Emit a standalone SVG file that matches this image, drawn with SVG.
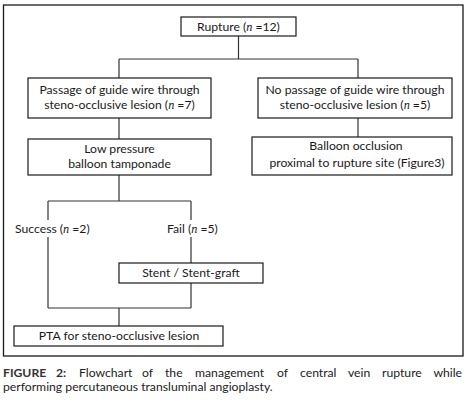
<svg xmlns="http://www.w3.org/2000/svg" width="466" height="402" viewBox="0 0 466 402">
<style>
.box{fill:#fff;stroke:#1a1a1a;stroke-width:1.2}
.t{font-family:Lato,"Open Sans","Liberation Sans",sans-serif;font-size:12.2px;fill:#1a1a1a;text-anchor:middle}
.tl{font-family:Lato,"Open Sans","Liberation Sans",sans-serif;font-size:12.2px;fill:#1a1a1a}
.n{font-family:"Liberation Serif",serif;font-style:italic}
.c{font-family:Lato,"Open Sans","Liberation Sans",sans-serif;font-size:12.2px;fill:#222}
.conn{fill:none;stroke:#333;stroke-width:1.2}
</style>
<rect x="0" y="0" width="466" height="402" fill="#fff"/>
<rect x="3.5" y="5" width="459.5" height="351" fill="none" stroke="#1a1a1a" stroke-width="1.3"/>
<g id="connectors">
<path class="conn" d="M238.5 36V59M119 59H358M119 59V78M358 59V78"/>
<path class="conn" d="M119 118V139M358 118V137"/>
<path class="conn" d="M119 175V201M48 201H191M48 201V220M191 201V220"/>
<path class="conn" d="M48 237V308M191 237V263M191 283V308M48 308H191M119 308V326"/>
</g>
<g id="rupture"><rect class="box" x="181" y="17" width="115" height="19"/><text class="t" x="238.5" y="31">Rupture (<tspan class="n">n</tspan> =12)</text></g>
<g id="passage"><rect class="box" x="28" y="78" width="183" height="40"/><text class="t" x="119.5" y="94">Passage of guide wire through</text><text class="t" x="119.5" y="109">steno-occlusive lesion (<tspan class="n">n</tspan> =7)</text></g>
<g id="nopassage"><rect class="box" x="258" y="78" width="194" height="40"/><text class="t" x="355" y="94">No passage of guide wire through</text><text class="t" x="355" y="109">steno-occlusive lesion (<tspan class="n">n</tspan> =5)</text></g>
<g id="lowpressure"><rect class="box" x="28" y="139" width="183" height="36"/><text class="t" x="119.5" y="153">Low pressure</text><text class="t" x="119.5" y="168">balloon tamponade</text></g>
<g id="balloon"><rect class="box" x="252" y="137" width="200" height="38"/><text class="t" x="356" y="150">Balloon occlusion</text><text class="t" x="357" y="167">proximal to rupture site (Figure3)</text></g>
<g id="success"><text class="tl" x="15" y="233">Success (<tspan class="n">n</tspan> =2)</text></g>
<g id="fail"><text class="tl" x="167" y="233">Fail (<tspan class="n">n</tspan> =5)</text></g>
<g id="stent"><rect class="box" x="119" y="263" width="144" height="20"/><text class="t" x="191" y="277">Stent / Stent-graft</text></g>
<g id="pta"><rect class="box" x="14" y="326" width="209" height="20"/><text class="t" x="119" y="340">PTA for steno-occlusive lesion</text></g>
<g id="caption">
<text class="c" y="377"><tspan x="3" font-weight="bold" fill="#333">FIGURE</tspan><tspan x="56" font-weight="bold" fill="#333">2:</tspan><tspan x="79">Flowchart</tspan><tspan x="142">of</tspan><tspan x="165">the</tspan><tspan x="195">management</tspan><tspan x="277">of</tspan><tspan x="300">central</tspan><tspan x="348">vein</tspan><tspan x="382">rupture</tspan></text>
<text class="c" x="462" y="377" text-anchor="end">while</text>
<text class="c" x="3" y="391">performing percutaneous transluminal angioplasty.</text>
</g>
</svg>
